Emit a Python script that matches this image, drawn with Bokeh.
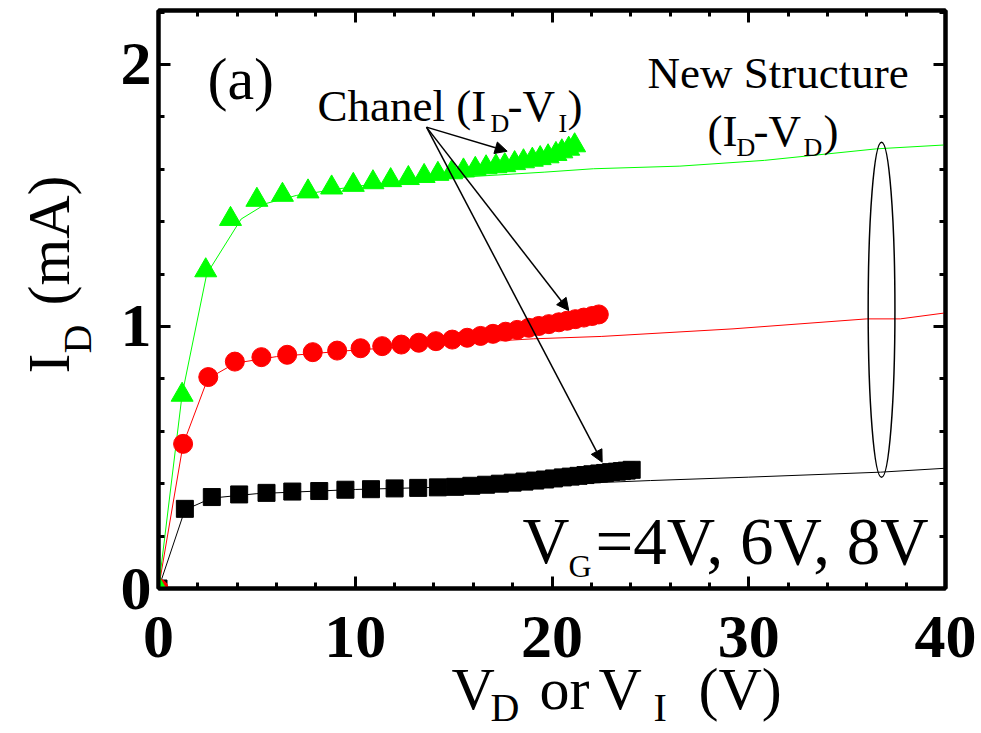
import math
from bokeh.plotting import figure
from bokeh.layouts import row, column
from bokeh.models import (Range1d, LinearAxis, Label, Arrow, NormalHead, SingleIntervalTicker,
                          CustomJSTickFormatter)
from bokeh.embed import file_html
from bokeh.resources import INLINE

# ---- data: channel (I_D - V_I), markers ----
vi_8v = [0, 1.2, 2.4, 3.66, 5.0, 6.3, 7.6, 8.8, 9.9, 10.9, 11.8, 12.7, 13.5, 14.2, 14.9, 15.5,
         16.1, 16.65, 17.15, 17.6, 18.1, 18.55, 19.0, 19.4, 19.8, 20.2, 20.5, 20.85, 21.15]
id_8v = [0, 0.739, 1.214, 1.41, 1.483, 1.502, 1.515, 1.53, 1.54, 1.55, 1.558, 1.566, 1.574, 1.582,
         1.588, 1.595, 1.601, 1.607, 1.611, 1.615, 1.623, 1.63, 1.636, 1.642, 1.649, 1.658, 1.668,
         1.678, 1.691]

vi_6v = [0, 1.25, 2.53, 3.88, 5.23, 6.54, 7.84, 9.08, 10.27, 11.37, 12.34, 13.23, 14.1, 14.93,
         15.69, 16.37, 17.0, 17.64, 18.23, 18.82, 19.33, 19.84, 20.35, 20.77, 21.19, 21.62, 22.04, 22.38]
id_6v = [0, 0.552, 0.807, 0.866, 0.883, 0.892, 0.902, 0.908, 0.917, 0.925, 0.931, 0.938, 0.944,
         0.950, 0.957, 0.964, 0.972, 0.980, 0.987, 0.995, 1.002, 1.009, 1.016, 1.022, 1.028, 1.034,
         1.040, 1.046]

vi_4v = [0, 1.34, 2.71, 4.1, 5.49, 6.8, 8.17, 9.5, 10.8, 12.0, 13.2, 14.2, 15.08, 15.9, 16.65,
         17.35, 18.0, 18.6, 19.15, 19.65, 20.1, 20.55, 20.95, 21.35, 21.7, 22.05, 22.4, 22.7, 23.0,
         23.3, 23.55, 23.8, 24.05]
id_4v = [0, 0.304, 0.349, 0.359, 0.365, 0.370, 0.372, 0.377, 0.379, 0.382, 0.384, 0.386, 0.388,
         0.392, 0.396, 0.400, 0.404, 0.408, 0.412, 0.416, 0.420, 0.424, 0.427, 0.430, 0.433, 0.436,
         0.439, 0.441, 0.444, 0.446, 0.448, 0.450, 0.453]

# ---- data: new structure (I_D - V_D), thin lines ----
vd_8v = [0, 1.2, 2.45, 4.2, 5.5, 7.0, 10.0, 11.4, 15.0, 19.6, 22.1, 26.5, 30.8, 36.5, 40.0]
idd_8v = [0, 0.74, 1.20, 1.41, 1.47, 1.50, 1.535, 1.545, 1.568, 1.589, 1.602, 1.612, 1.634, 1.678, 1.693]

vd_6v = [0, 1.25, 2.5, 3.9, 6.0, 10.0, 15.0, 19.06, 22.5, 29.2, 36.0, 37.7, 40.0]
idd_6v = [0, 0.55, 0.80, 0.86, 0.885, 0.91, 0.935, 0.953, 0.962, 0.991, 1.029, 1.029, 1.052]

vd_4v = [0, 1.34, 2.7, 5.0, 10.0, 15.0, 20.0, 25.0, 30.0, 36.7, 40.0]
idd_4v = [0, 0.30, 0.345, 0.362, 0.378, 0.388, 0.397, 0.412, 0.425, 0.444, 0.459]

# ellipse grouping the I_D-V_D curves
ell_x, ell_y, ell_w, ell_h = [36.75], [1.064], [1.36], [1.279]

# annotation arrows (shared start)
arrow_start = (13.62, 1.761)
arrow_ends = [(17.72, 1.669), (20.85, 1.061), (22.55, 0.482)]

FONT = "Liberation Serif"
LEFT_W = 105            # width of the strip holding the y-axis title
BOT_BORDER = 120        # generous bottom border of the main plot (holds tick labels)
FL, FB = 158, 588       # frame left / bottom in page px
MAIN_H = FB + BOT_BORDER
TOTAL_H = 733
XL_TOP = 603            # page y where the x-title strip starts (overlaps main border)
XL_SHIFT = 15           # measured offset of the strip's label origin
RB = 36                 # right border

p = figure(width=981 - LEFT_W, height=MAIN_H, x_range=Range1d(0, 40), y_range=Range1d(0, 2.206),
           output_backend="svg", toolbar_location=None,
           min_border_left=FL - LEFT_W, min_border_right=RB, min_border_top=10,
           min_border_bottom=BOT_BORDER)
p.xgrid.visible = False
p.ygrid.visible = False
p.outline_line_color = "black"
p.outline_line_width = 4
p.background_fill_color = "white"
p.border_fill_color = "white"

p.xaxis.ticker = SingleIntervalTicker(interval=10, num_minor_ticks=5)
p.yaxis.ticker = SingleIntervalTicker(interval=1, num_minor_ticks=5)

def style_axis(ax, labels=True, standoff=4):
    ax.axis_line_width = 4
    ax.axis_line_color = "black"
    ax.major_tick_in = 12
    ax.major_tick_out = 0
    ax.minor_tick_in = 6
    ax.minor_tick_out = 0
    ax.major_tick_line_width = 3
    ax.minor_tick_line_width = 3
    ax.major_tick_line_color = "black"
    ax.minor_tick_line_color = "black"
    if labels:
        ax.major_label_text_font = FONT
        ax.major_label_text_font_style = "bold"
        ax.major_label_text_font_size = "62px"
        ax.major_label_text_color = "black"
        ax.major_label_standoff = standoff
    else:
        ax.formatter = CustomJSTickFormatter(code="return ''")
        ax.major_label_text_font_size = "1px"
        ax.major_label_standoff = 0

style_axis(p.xaxis[0], True, 28)
style_axis(p.yaxis[0], True, 7)

top_ax = LinearAxis(ticker=SingleIntervalTicker(interval=10, num_minor_ticks=5))
right_ax = LinearAxis(ticker=SingleIntervalTicker(interval=1, num_minor_ticks=5))
style_axis(top_ax, False)
style_axis(right_ax, False)
p.add_layout(top_ax, "above")
p.add_layout(right_ax, "right")

# I_D - V_D lines
p.line(vd_4v, idd_4v, line_color="black", line_width=1)
p.line(vd_6v, idd_6v, line_color="#ff0000", line_width=1)
p.line(vd_8v, idd_8v, line_color="#00ff00", line_width=1)

# channel markers
p.scatter(vi_4v, id_4v, marker="square", size=17, fill_color="black", line_color="black")
p.scatter(vi_6v, id_6v, marker="circle", size=19, fill_color="#ff0000", line_color="#ff0000")
p.scatter(vi_8v, id_8v, marker="triangle", size=22, fill_color="#00ff00", line_color="#00ff00")

p.ellipse(x=ell_x, y=ell_y, width=ell_w, height=ell_h, fill_color=None,
          line_color="black", line_width=1.5)

for (xe, ye) in arrow_ends:
    p.add_layout(Arrow(end=NormalHead(size=12, fill_color="black", line_color="black"),
                       x_start=arrow_start[0], y_start=arrow_start[1], x_end=xe, y_end=ye,
                       line_color="black", line_width=1.5))

def lab(fig, ox, oy, text, X, Y, size, style="normal", angle=0.0):
    """Place text with its left/baseline at page pixel (X, Y); (ox, oy) = fig frame left/bottom."""
    fig.add_layout(Label(x=X - ox, y=oy - Y, x_units="screen", y_units="screen", text=text,
                         text_font=FONT, text_font_size=f"{size}px", text_font_style=style,
                         text_baseline="alphabetic", text_align="left", angle=angle,
                         text_color="black"))

# texts inside the frame
lab(p, FL, FB, "(a)", 207, 78, 60)
lab(p, FL, FB, "Chanel (I", 317, 105, 45)
lab(p, FL, FB, "D", 490, 123, 26)
lab(p, FL, FB, "-V", 507, 105, 45)
lab(p, FL, FB, "I", 558, 123, 26)
lab(p, FL, FB, ")", 567, 105, 45)
lab(p, FL, FB, "New Structure", 647, 72, 45)
lab(p, FL, FB, "(I", 707, 130, 45)
lab(p, FL, FB, "D", 736, 147, 26)
lab(p, FL, FB, "-V", 753, 130, 45)
lab(p, FL, FB, "D", 803, 147, 26)
lab(p, FL, FB, ")", 823, 130, 45)
lab(p, FL, FB, "V", 522, 540, 65)
lab(p, FL, FB, "G", 568, 565, 32)
lab(p, FL, FB, "=4V, 6V, 8V", 595, 540, 67)

def blank(w, h, bl=0, br=0, transparent=False):
    f = figure(width=w, height=h, x_range=Range1d(0, 1), y_range=Range1d(0, 1),
               x_axis_type=None, y_axis_type=None, output_backend="svg", toolbar_location=None,
               min_border=0, min_border_left=bl, min_border_right=br, min_border_top=0,
               min_border_bottom=0)
    f.outline_line_color = None
    f.xgrid.visible = False
    f.ygrid.visible = False
    if transparent:
        f.background_fill_color = None
        f.border_fill_color = None
    else:
        f.background_fill_color = "white"
        f.border_fill_color = "white"
    return f

# y-axis title strip
ylab = blank(LEFT_W, TOTAL_H)
lab(ylab, 0, TOTAL_H, "I", 48, 373, 60, angle=math.pi / 2)
lab(ylab, 0, TOTAL_H, "D", 77, 353, 40, angle=math.pi / 2)
lab(ylab, 0, TOTAL_H, "(mA)", 48, 305, 60, angle=math.pi / 2)

# x-axis title strip, pulled up over the (empty) lower part of the main plot's border
xlab = blank(981 - LEFT_W, TOTAL_H - XL_TOP, bl=FL - LEFT_W, br=RB, transparent=True)
xlab.styles = {"margin-top": f"-{MAIN_H - XL_TOP}px"}
XB = TOTAL_H + XL_SHIFT
lab(xlab, FL, XB, "V", 451, 703, 60)
lab(xlab, FL, XB, "D", 490, 722, 40)
lab(xlab, FL, XB, "or", 539, 703, 60)
lab(xlab, FL, XB, "V", 598, 703, 60)
lab(xlab, FL, XB, "I", 653, 722, 40)
lab(xlab, FL, XB, "(V)", 698, 703, 60)

layout = row(ylab, column(p, xlab))
open("out.html", "w").write(file_html(layout, INLINE))
